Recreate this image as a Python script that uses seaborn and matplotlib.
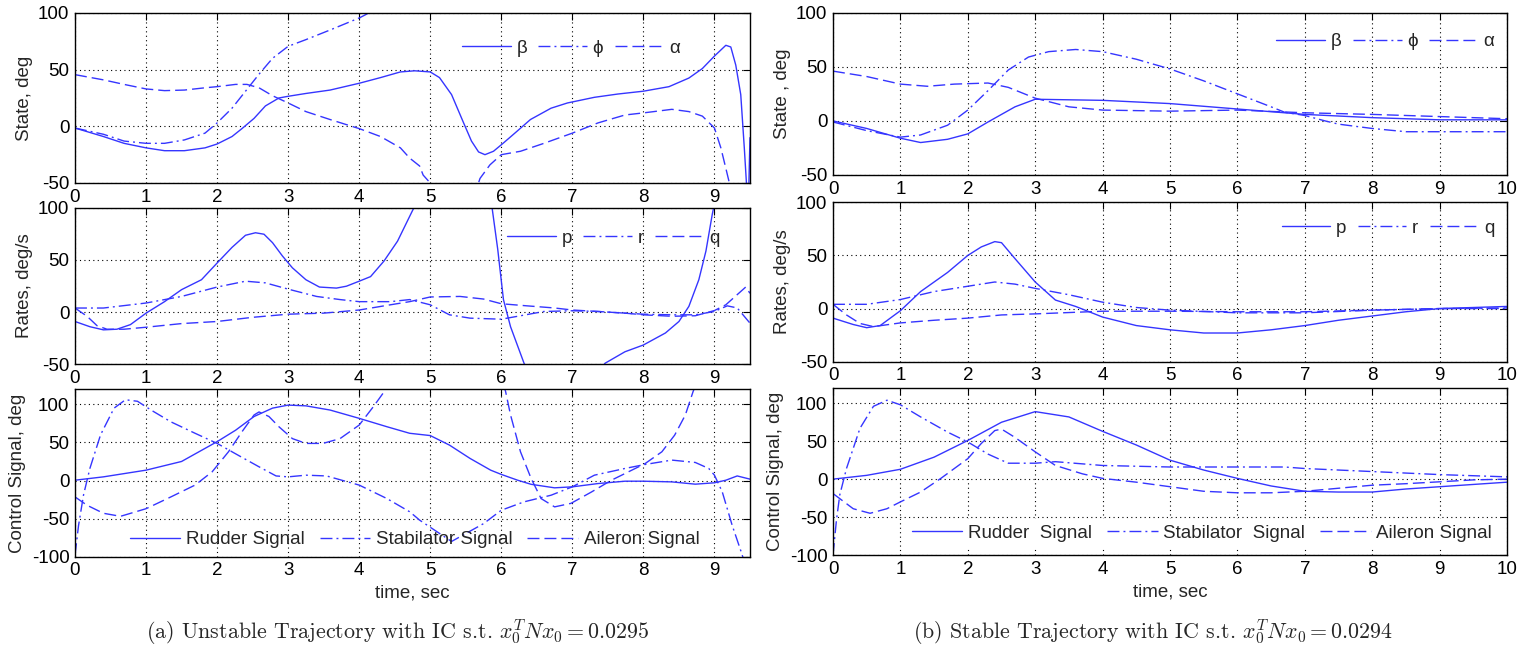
import matplotlib
matplotlib.use('Agg')
import matplotlib.pyplot as plt
import seaborn as sns

# ---------------- (a) unstable trajectory ----------------
# state
ta_beta = [0, 0.4, 0.69, 1.0, 1.26, 1.54, 1.83, 2.0, 2.21, 2.35, 2.52, 2.68, 2.87, 3.0, 3.25, 3.59, 4.0, 4.3,
           4.58, 4.78, 5.0, 5.13, 5.3, 5.46, 5.58, 5.68, 5.77, 5.89, 6.03, 6.22, 6.41, 6.7, 6.93, 7.31, 7.64,
           8.0, 8.36, 8.64, 8.83, 9.0, 9.16, 9.23, 9.3, 9.37, 9.42, 9.45, 9.48, 9.5]
a_beta = [-1.5, -9, -15, -19, -21.5, -21.5, -19, -15.6, -9, -2, 7, 18, 25, 26.5, 29, 32, 38, 43,
          48, 49, 48, 43, 28, 4.4, -13, -22.6, -25, -22, -14.7, -4.4, 6, 16, 20.6, 25.6, 28.5,
          31, 35, 42.6, 51, 62, 71.5, 70, 54, 28, -19, -50, -62, -10]
ta_phi = [0, 0.4, 0.69, 1.0, 1.26, 1.54, 1.83, 2.0, 2.21, 2.4, 2.59, 2.78, 3.0, 3.25, 3.59, 4.0, 4.09, 4.3]
a_phi = [-1.5, -7, -13, -15, -15, -12, -6, 3, 16, 31, 46, 60, 70.6, 76.5, 85, 95.6, 98.5, 106]
ta_alpha = [0, 0.4, 0.69, 1.0, 1.26, 1.54, 1.83, 2.0, 2.26, 2.42, 2.59, 2.78, 3.0, 3.25, 3.59, 4.0, 4.3,
            4.58, 4.71, 4.85, 4.9, 5.0, 5.1, 5.4, 5.6, 5.7, 5.84, 6.0, 6.27, 6.6, 7.0, 7.36, 7.74,
            8.02, 8.4, 8.64, 8.83, 9.0, 9.09, 9.16, 9.21, 9.25]
a_alpha = [45.6, 41, 37, 33, 31.5, 32, 34, 35, 37, 37, 34, 27, 20.6, 13, 6, -2, -9,
           -19, -28, -35, -43, -50, -60, -90, -65, -46, -34, -25, -22, -15, -6, 3, 10,
           12, 15, 13, 9, -1.5, -19, -37, -50, -60]
# rates
ta_p = [0, 0.21, 0.4, 0.59, 0.78, 1.0, 1.26, 1.5, 1.78, 2.0, 2.21, 2.4, 2.54, 2.66, 2.78, 2.92, 3.06, 3.25,
        3.44, 3.68, 3.82, 4.0, 4.16, 4.35, 4.54, 4.68, 4.77, 4.9, 5.4, 5.75, 5.87, 5.95, 6.03, 6.13,
        6.32, 6.5, 7.0, 7.46, 7.74, 8.0, 8.31, 8.5, 8.64, 8.78, 8.88, 8.97, 9.05]
a_p = [-9, -14, -17, -16.4, -12, -1, 10, 21.5, 31, 47, 62, 73.6, 76, 74.6, 66.5, 53.7, 42.4, 31,
       24, 23, 24.8, 29.6, 34, 49, 68, 87.5, 100, 130, 170, 130, 100, 60, 12, -14,
       -49, -80, -90, -49, -38, -31.5, -20, -9, 5.5, 31, 58.5, 94, 120]
ta_r = [0, 0.4, 1.0, 1.5, 2.0, 2.4, 2.68, 3.0, 3.4, 3.73, 4.0, 4.44, 4.71, 5.0, 5.27, 5.56, 6.0, 6.23,
        6.6, 7.0, 7.36, 7.74, 8.0, 8.4, 8.73, 9.0, 9.18, 9.32, 9.5]
a_r = [3.9, 3.9, 8.7, 15, 24, 29.6, 28, 22, 15, 12, 10, 10, 12, 7, -2.6, -5.8, -6.8, -4,
       0.6, 1.3, 0.6, -1, -2, -2.6, -2.6, 0.6, 6, 4, -10.6]
ta_q = [0, 0.17, 0.31, 0.45, 0.69, 1.0, 1.5, 2.0, 2.5, 3.0, 3.5, 4.0, 4.44, 4.71, 5.0, 5.42, 5.75, 6.0,
        6.36, 6.74, 7.0, 7.36, 7.74, 8.0, 8.4, 8.73, 9.0, 9.16, 9.44, 9.5]
a_q = [3.9, -4, -13, -16.4, -16.4, -14.5, -11, -9, -5, -2, -1, 2, 7, 10, 14.5, 15, 12.5, 8,
       6, 4, 2, 0.6, -1, -2.6, -4, -3.5, 1.5, 7, 24, 18]
# control signals
ta_rud = [0, 0.4, 1.0, 1.5, 2.0, 2.26, 2.52, 2.78, 3.0, 3.25, 3.59, 4.0, 4.39, 4.71, 5.0, 5.27, 5.56,
          5.85, 6.0, 6.23, 6.42, 6.75, 7.0, 7.36, 7.74, 8.0, 8.4, 8.73, 9.0, 9.16, 9.32, 9.5]
a_rud = [0.4, 4.8, 13.6, 25, 51, 66, 84, 95, 99, 98, 92.5, 81.6, 70.6, 62, 59, 46.5, 29,
         13.6, 8, 0.4, -5, -9.6, -8.3, -4, -0.9, -0.9, -1.8, -4.8, -3, 0.4, 6, 1.8]
ta_stab = [0, 0.05, 0.12, 0.21, 0.36, 0.55, 0.71, 0.88, 1.07, 1.35, 1.69, 2.0, 2.3, 2.59, 2.83, 3.0, 3.25,
           3.54, 4.0, 4.39, 4.71, 4.8, 4.85, 5.3, 5.75, 6.0, 6.32, 6.7, 7.0, 7.31, 7.74, 8.02, 8.4,
           8.73, 8.92, 9.0, 9.11, 9.25, 9.37, 9.45]
a_stab = [-98, -59, -19, 16, 60, 95, 106, 104, 92.5, 77, 62, 48.7, 33, 18, 6, 4.8, 7,
          6, -6, -23.7, -41, -48, -52, -80, -56.6, -39, -28, -19.3, -8.3, 7, 15.8, 21, 26.8,
          23.7, 15.8, 7, -15, -59, -92, -115]
ta_ail = [0, 0.17, 0.4, 0.64, 1.0, 1.35, 1.69, 1.93, 2.16, 2.35, 2.52, 2.59, 2.73, 2.87, 3.06, 3.25, 3.49,
          3.73, 4.0, 4.2, 4.37, 4.5, 5.2, 5.9, 6.06, 6.13, 6.27, 6.42, 6.56, 6.75, 6.98, 7.27, 7.55,
          8.02, 8.26, 8.44, 8.59, 8.7, 8.8]
a_ail = [-21.5, -32.5, -43, -47, -37, -21.5, -6, 11.4, 37.7, 64, 86, 90, 84, 70.6, 55, 48.7, 48.7,
         55, 72.8, 97, 119, 135, 200, 160, 117, 86, 37.7, 2.6, -23.7, -34.6, -30, -15, 0.4,
         22, 37.7, 59.6, 86, 117, 140]

# ---------------- (b) stable trajectory ----------------
tb_beta = [0, 0.5, 1, 1.3, 1.7, 2, 2.3, 2.7, 3, 4, 5, 6, 7, 8, 9, 10]
b_beta = [0, -7, -16, -20, -17, -12, -1, 13, 20, 19, 16, 11, 6, 3, 1, 1]
tb_phi = [0, 0.5, 1, 1.3, 1.7, 2, 2.3, 2.6, 2.9, 3.2, 3.6, 4, 4.5, 5, 5.5, 6, 6.5, 6.7, 7, 7.3, 7.5, 8,
          8.5, 9, 10]
b_phi = [-1, -9, -15, -13, -4, 10, 28, 47, 59, 64, 66, 64, 57, 48, 37, 25, 13, 8, 5, 0, -3, -7,
         -10, -10, -10]
tb_alpha = [0, 0.5, 1, 1.4, 1.8, 2.3, 2.6, 3, 3.5, 4, 5, 6, 7, 8, 9, 10]
b_alpha = [46, 41, 34, 32, 34, 35, 31, 21, 13, 10, 9, 10, 7.5, 6, 4, 2]

tb_p = [0, 0.3, 0.5, 0.7, 1, 1.3, 1.7, 2, 2.2, 2.4, 2.5, 2.7, 3, 3.3, 3.6, 4, 4.5, 5, 5.5, 6, 6.5, 7,
        7.5, 8, 8.5, 9, 9.5, 10]
b_p = [-9, -15, -18, -16, -2, 16, 34, 50, 58, 63, 62, 47, 25, 8, 2, -8, -16, -20, -23, -23, -20, -16,
       -11, -7, -3, 0, 1, 2]
tb_r = [0, 0.5, 1, 1.5, 2, 2.4, 2.7, 3, 3.5, 4, 4.5, 5, 6, 7, 8, 9, 10]
b_r = [4, 4, 8.5, 16, 21, 25, 23, 19, 13, 6, 1, -1.5, -4, -4, -1.5, 0, 0]
tb_q = [0, 0.2, 0.4, 0.6, 1, 1.5, 2, 2.5, 3, 4, 5, 6, 7, 8, 9, 10]
b_q = [4, -6, -14, -17, -13.5, -11, -9, -6, -5, -2.5, -2.5, -3, -3, -1.5, 0, 0.6]

tb_rud = [0, 0.5, 1, 1.5, 2, 2.5, 3, 3.5, 4, 4.5, 5, 5.5, 6, 6.5, 7, 7.5, 8, 8.5, 9, 9.5, 10]
b_rud = [0, 5, 13, 29, 51, 75, 89, 82, 63, 45, 25, 12, 1, -9, -16, -17, -17, -13, -10, -7, -4]
tb_stab = [0, 0.05, 0.1, 0.2, 0.4, 0.6, 0.8, 1, 1.3, 1.7, 2, 2.3, 2.6, 3, 3.3, 4, 5, 6, 6.7, 7, 8, 9, 10]
b_stab = [-100, -55, -21, 14, 67, 96, 104, 98, 82, 62, 49, 33, 21, 21, 23, 18, 16, 16, 16, 14, 10, 6, 3]
tb_ail = [0, 0.3, 0.55, 0.8, 1, 1.3, 1.6, 2, 2.2, 2.4, 2.5, 2.7, 3, 3.3, 3.7, 4, 4.5, 5, 5.5, 6, 6.5,
          7, 7.5, 8, 8.5, 9, 9.5, 10]
b_ail = [-19, -39, -45, -39, -30, -17, 1, 27, 47, 64, 66, 55, 36, 18, 7, 1, -4, -10, -16, -18, -18,
         -16, -12, -8, -6, -3.5, -1, 0]

BLUE = '#3535ff'
DASH = (8.6, 3.6)
DASHDOT = (8.6, 2.9, 1.4, 2.9)
FS = 13.5

sns.set_style('white')
plt.rcParams['font.family'] = ['Liberation Sans', 'DejaVu Sans']
plt.rcParams['axes.unicode_minus'] = False
plt.rcParams['mathtext.fontset'] = 'cm'


def draw(ax, series):
    for t, v, dashes, lab in series:
        sns.lineplot(x=t, y=v, ax=ax, color=BLUE, linewidth=1.0, estimator=None, sort=False)
        line = ax.lines[-1]
        if dashes is not None:
            line.set_dashes(dashes)
        line.set_label(lab)


def style(ax, xmax, ylim, yticks, ylabel):
    ax.set_xlim(0, xmax)
    ax.set_ylim(*ylim)
    ax.set_xticks(range(0, int(xmax) + 1))
    ax.set_yticks(yticks)
    ax.grid(True, color='black', linestyle=(0, (1, 3)), linewidth=0.8)
    ax.tick_params(direction='in', top=True, right=True, length=5, width=0.8,
                   labelsize=FS, pad=4, colors='black')
    ax.set_ylabel(ylabel, fontsize=FS, labelpad=4)
    ax.set_xlabel('')
    for s in ax.spines.values():
        s.set_linewidth(1.0)
        s.set_color('black')


fig = plt.figure(figsize=(15.28, 6.52), dpi=100)

# left column
ax1 = fig.add_axes([0.04908, 0.71933, 0.44175, 0.26074])
ax2 = fig.add_axes([0.04908, 0.44126, 0.44175, 0.24018])
ax3 = fig.add_axes([0.04908, 0.14617, 0.44175, 0.25706])
# right column
ax4 = fig.add_axes([0.54516, 0.73160, 0.4411, 0.24893])
ax5 = fig.add_axes([0.54516, 0.44525, 0.4411, 0.24448])
ax6 = fig.add_axes([0.54516, 0.14877, 0.4411, 0.25598])

draw(ax1, [(ta_beta, a_beta, None, 'β'), (ta_phi, a_phi, DASHDOT, 'ϕ'), (ta_alpha, a_alpha, DASH, 'α')])
draw(ax2, [(ta_p, a_p, None, 'p'), (ta_r, a_r, DASHDOT, 'r'), (ta_q, a_q, DASH, 'q')])
draw(ax3, [(ta_rud, a_rud, None, 'Rudder Signal'), (ta_stab, a_stab, DASHDOT, 'Stabilator Signal'),
           (ta_ail, a_ail, DASH, 'Aileron Signal')])
draw(ax4, [(tb_beta, b_beta, None, 'β'), (tb_phi, b_phi, DASHDOT, 'ϕ'), (tb_alpha, b_alpha, DASH, 'α')])
draw(ax5, [(tb_p, b_p, None, 'p'), (tb_r, b_r, DASHDOT, 'r'), (tb_q, b_q, DASH, 'q')])
draw(ax6, [(tb_rud, b_rud, None, 'Rudder  Signal'), (tb_stab, b_stab, DASHDOT, 'Stabilator  Signal'),
           (tb_ail, b_ail, DASH, 'Aileron Signal')])

style(ax1, 9.5, (-50, 100), [-50, 0, 50, 100], 'State, deg')
style(ax2, 9.5, (-50, 100), [-50, 0, 50, 100], 'Rates, deg/s')
style(ax3, 9.5, (-100, 120), [-100, -50, 0, 50, 100], 'Control Signal, deg')
style(ax4, 10, (-50, 100), [-50, 0, 50, 100], 'State , deg')
style(ax5, 10, (-50, 100), [-50, 0, 50, 100], 'Rates, deg/s')
style(ax6, 10, (-100, 120), [-100, -50, 0, 50, 100], 'Control Signal, deg')
ax3.set_xlabel('time, sec', fontsize=FS, labelpad=4)
ax6.set_xlabel('time, sec', fontsize=FS, labelpad=4)

leg_kw = dict(ncol=3, fontsize=FS, handlelength=2.6, handletextpad=0.3, columnspacing=0.6, borderpad=0)
ax1.legend(loc='center right', bbox_to_anchor=(0.91, 0.794), frameon=False, **leg_kw)
ax2.legend(loc='center right', bbox_to_anchor=(0.969, 0.805), frameon=False, **leg_kw)
ax4.legend(loc='center right', bbox_to_anchor=(0.995, 0.821), frameon=False, **leg_kw)
ax5.legend(loc='center right', bbox_to_anchor=(0.995, 0.837), frameon=False, **leg_kw)
leg_kw['columnspacing'] = 0.8
leg_kw['handlelength'] = 2.7
ax3.legend(loc='center', bbox_to_anchor=(0.503, 0.10), frameon=False, **leg_kw)
leg_kw['borderpad'] = 0.3
ax6.legend(loc='center right', bbox_to_anchor=(1.0, 0.13), frameon=True, facecolor='white',
           edgecolor='none', framealpha=1, fancybox=False, **leg_kw)

fig.text(398 / 1528, 1 - 632 / 652,
         r'(a) Unstable Trajectory with IC s.t. $x_0^T N x_0 = 0.0295$',
         ha='center', va='center', fontsize=15.8, family='cmr10')
fig.text(1153 / 1528, 1 - 632 / 652,
         r'(b) Stable Trajectory with IC s.t. $x_0^T N x_0 = 0.0294$',
         ha='center', va='center', fontsize=15.8, family='cmr10')

fig.savefig('out.png', dpi=100)
